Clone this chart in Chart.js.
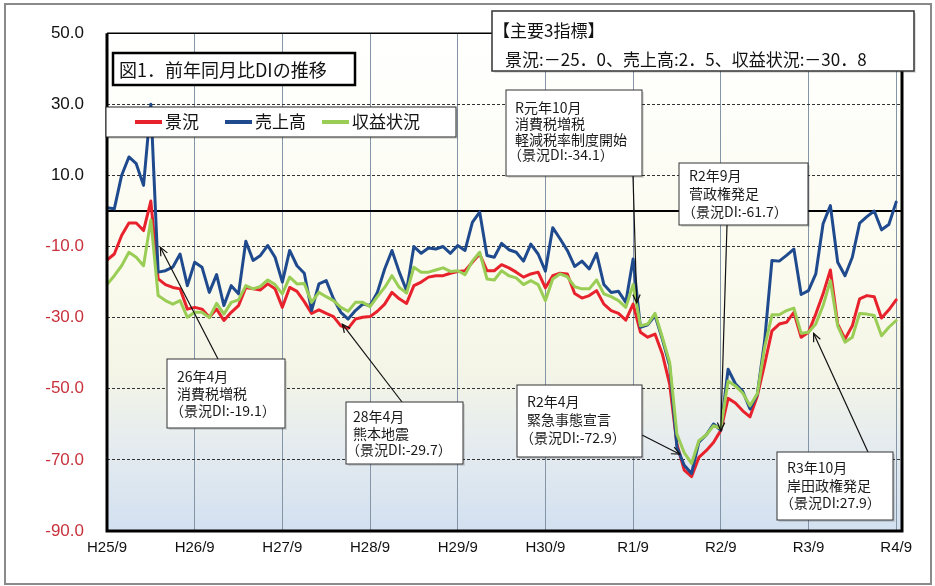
<!DOCTYPE html>
<html>
<head>
<meta charset="utf-8">
<script src="https://cdn.jsdelivr.net/npm/chart.js@4.4.1/dist/chart.umd.min.js"></script>
<style>
html, body { margin: 0; padding: 0; background: #fff; }
</style>
</head>
<body>
<canvas id="c" width="935" height="586"></canvas>
<script>
// monthly DI, H25/9 (index 0) .. R4/9 (index 108)
const tickLabels = ['H25/9', 'H26/9', 'H27/9', 'H28/9', 'H29/9', 'H30/9', 'R1/9', 'R2/9', 'R3/9', 'R4/9'];
const yTicks = [-90, -70, -50, -30, -10, 10, 30, 50];

const keikyo = [
	-13.8, -12.1, -6.9, -3.4, -3.4, -5.5, 2.8, -19.1, -20.7, -21.5,
	-21.9, -27.6, -27.1, -27.6, -29.9, -27.6, -30.8, -28.5, -26.6, -21.5,
	-21.9, -22.2, -20.5, -21.9, -27.1, -21.5, -22.6, -25.5, -28.8, -27.8,
	-28.8, -29.7, -32.3, -33.0, -30.4, -29.9, -29.7, -28.2, -26.2, -22.9,
	-24.7, -26.0, -21.0, -20.0, -18.6, -18.2, -18.2, -17.5, -17.0, -16.8,
	-14.4, -12.1, -16.8, -16.8, -15.1, -16.0, -17.2, -18.6, -17.7, -17.2,
	-21.6, -18.2, -17.5, -17.7, -23.2, -24.5, -23.8, -22.4, -26.2, -28.0,
	-28.8, -30.7, -26.2, -34.1, -35.5, -34.6, -40.2, -48.7, -65.6, -72.9,
	-74.7, -69.3, -67.4, -65.1, -61.7, -52.7, -54.0, -56.2, -57.9, -52.0,
	-43.1, -33.7, -31.8, -31.3, -28.5, -35.5, -34.1, -29.0, -23.3, -16.6,
	-31.8, -36.0, -32.3, -24.7, -23.8, -24.1, -30.1, -27.8, -25.0
];
const uriage = [
	0.9, 0.6, 10.0, 15.2, 13.3, 7.2, 30.0, -17.2, -16.8, -15.8,
	-12.1, -21.0, -14.4, -15.8, -22.9, -17.9, -26.6, -21.0, -23.3, -8.5,
	-13.9, -12.5, -9.7, -13.0, -20.0, -11.1, -15.4, -17.5, -28.0, -20.5,
	-19.6, -24.7, -28.5, -30.4, -28.0, -26.2, -26.6, -22.9, -16.3, -11.1,
	-17.2, -22.4, -10.0, -11.9, -10.4, -10.7, -10.0, -11.9, -9.7, -11.1,
	-3.2, -0.3, -12.5, -13.0, -9.1, -10.9, -11.6, -14.1, -9.3, -12.1,
	-16.9, -4.7, -7.8, -11.1, -15.6, -14.1, -16.3, -11.9, -20.7, -22.9,
	-22.6, -25.7, -13.5, -32.7, -32.0, -29.4, -36.0, -43.5, -66.5, -71.5,
	-73.8, -65.0, -63.0, -59.9, -61.6, -44.5, -48.6, -50.7, -55.7, -51.5,
	-36.5, -13.9, -14.1, -12.5, -10.7, -23.5, -22.4, -17.7, -3.6, 1.5,
	-14.4, -18.2, -13.0, -3.4, -1.6, 0.0, -5.3, -3.8, 2.5
];
const shueki = [
	-20.7, -18.2, -15.4, -11.6, -13.0, -15.4, -2.5, -23.8, -25.2, -26.2,
	-25.2, -29.9, -28.5, -28.5, -30.0, -26.0, -29.0, -25.7, -25.0, -21.0,
	-21.9, -21.2, -19.4, -20.7, -23.3, -18.6, -20.5, -20.4, -25.7, -22.9,
	-24.1, -25.2, -27.1, -28.2, -25.7, -25.7, -26.9, -24.1, -21.5, -18.2,
	-21.5, -23.1, -15.8, -17.2, -17.2, -16.6, -16.0, -17.0, -16.8, -17.9,
	-14.1, -11.6, -19.1, -19.4, -16.8, -18.2, -18.8, -20.7, -19.6, -20.7,
	-25.2, -19.1, -17.7, -18.5, -21.3, -21.9, -21.9, -19.4, -23.3, -24.1,
	-25.2, -27.1, -20.7, -32.3, -31.8, -28.8, -35.5, -42.6, -62.8, -68.0,
	-71.0, -64.6, -63.0, -60.4, -61.1, -47.8, -49.2, -51.2, -54.8, -51.4,
	-38.4, -29.2, -29.2, -28.0, -27.3, -34.4, -34.1, -31.8, -26.6, -19.6,
	-32.3, -36.9, -35.5, -28.8, -29.0, -29.4, -35.1, -32.7, -30.8
];

const RED = '#e8222c';
const NAVY = '#1f4b8e';
const GREEN = '#9acd55';
const JP = '"Noto Sans CJK JP", sans-serif';

// callouts: box, text, arrow start (px) and arrow tip (month index, DI value)
const notes = [
	{ box: [167, 359, 118, 69], tx: 177, ty: 377, lh: 17, lines: ['26年4月', '消費税増税', '（景況DI:-19.1）'], from: [218, 359], at: [7.3, -10.2] },
	{ box: [346, 402, 117, 62], tx: 353, ty: 417, lh: 16.5, lines: ['28年4月', '熊本地震', '（景況DI:-29.7）'], from: [402, 402], at: [32.2, -31.8] },
	{ box: [506, 90, 136, 86], tx: 515, ty: 108, lh: 15.7, lines: ['R元年10月', '消費税増税', '軽減税率制度開始', '（景況DI:-34.1）'], from: [633, 176], at: [72.5, -25.8] },
	{ box: [679, 163, 129, 62], tx: 689, ty: 176, lh: 18, lines: ['R2年9月', '菅政権発足', '（景況DI:-61.7）'], from: [727, 225], at: [84.0, -61.8] },
	{ box: [517, 385, 125, 72], tx: 527, ty: 402, lh: 17.6, lines: ['R2年4月', '緊急事態宣言', '（景況DI:-72.9）'], from: [642, 435], at: [78.4, -68.4] },
	{ box: [777, 452, 116, 68], tx: 787, ty: 468, lh: 17.5, lines: ['R3年10月', '岸田政権発足', '（景況DI:27.9）'], from: [868, 452], at: [96.7, -34.4] }
];

function toPoints(arr) {
	return arr.map(function (v, i) { return { x: i, y: v }; });
}

function arrow(ctx, x0, y0, x1, y1) {
	ctx.beginPath();
	ctx.moveTo(x0, y0);
	ctx.lineTo(x1, y1);
	ctx.stroke();
	const a = Math.atan2(y1 - y0, x1 - x0), L = 9, w = 0.42;
	ctx.beginPath();
	ctx.moveTo(x1 - L * Math.cos(a - w), y1 - L * Math.sin(a - w));
	ctx.lineTo(x1, y1);
	ctx.lineTo(x1 - L * Math.cos(a + w), y1 - L * Math.sin(a + w));
	ctx.stroke();
}

function textBox(ctx, x, y, w, h, lw, color) {
	ctx.fillStyle = 'rgba(0,0,0,0.12)';
	ctx.fillRect(x + 2, y + 2, w, h);
	ctx.fillStyle = '#fff';
	ctx.fillRect(x, y, w, h);
	ctx.lineWidth = lw;
	ctx.strokeStyle = color;
	ctx.strokeRect(x, y, w, h);
}

const decor = {
	id: 'decor',
	beforeDraw(chart) {
		const ctx = chart.ctx, a = chart.chartArea;
		ctx.save();
		ctx.fillStyle = '#fff';
		ctx.fillRect(0, 0, chart.width, chart.height);
		const g = ctx.createLinearGradient(0, a.top, 0, a.bottom);
		g.addColorStop(0, '#ffffff');
		g.addColorStop(0.45, '#fbfbef');
		g.addColorStop(0.68, '#f4f5e6');
		g.addColorStop(0.82, '#e6ecef');
		g.addColorStop(1, '#d2e0f0');
		ctx.fillStyle = g;
		ctx.fillRect(a.left, a.top, a.right - a.left, a.bottom - a.top);
		ctx.restore();
	},
	beforeDatasetsDraw(chart) {
		const ctx = chart.ctx, a = chart.chartArea;
		const y0 = chart.scales.y.getPixelForValue(0);
		ctx.save();
		ctx.strokeStyle = '#000';
		ctx.lineWidth = 2;
		ctx.beginPath();
		ctx.moveTo(a.left, y0);
		ctx.lineTo(a.right, y0);
		ctx.stroke();
		ctx.restore();
	},
	afterDatasetsDraw(chart) {
		const ctx = chart.ctx, a = chart.chartArea;
		ctx.save();
		ctx.strokeStyle = '#000';
		ctx.lineWidth = 1.5;
		ctx.beginPath();
		ctx.moveTo(a.left, a.top);
		ctx.lineTo(a.right, a.top);
		ctx.stroke();
		ctx.lineWidth = 3;
		ctx.beginPath();
		ctx.moveTo(a.left, a.top);
		ctx.lineTo(a.left, a.bottom);
		ctx.lineTo(a.right, a.bottom);
		ctx.lineTo(a.right, a.top);
		ctx.stroke();
		ctx.restore();
	},
	afterDraw(chart) {
		const ctx = chart.ctx, xs = chart.scales.x, ys = chart.scales.y;
		ctx.save();

		// legend
		textBox(ctx, 106, 107, 350, 30, 1, '#222');
		const items = [[RED, '景況', 135], [NAVY, '売上高', 225], [GREEN, '収益状況', 322]];
		ctx.font = '17px ' + JP;
		ctx.textBaseline = 'middle';
		items.forEach(function (it) {
			ctx.strokeStyle = it[0];
			ctx.lineWidth = 4;
			ctx.beginPath();
			ctx.moveTo(it[2], 122);
			ctx.lineTo(it[2] + 27, 122);
			ctx.stroke();
			ctx.fillStyle = '#111';
			ctx.fillText(it[1], it[2] + 30, 122);
		});

		// title
		ctx.fillStyle = '#fff';
		ctx.fillRect(113, 53, 242, 32);
		ctx.lineWidth = 2.5;
		ctx.strokeStyle = '#000';
		ctx.strokeRect(113, 53, 242, 32);
		ctx.fillStyle = '#111';
		ctx.font = '18px ' + JP;
		ctx.fillText('図1．前年同月比DIの推移', 119, 70);

		// key figures
		textBox(ctx, 492, 11, 422, 60, 1.5, '#333');
		ctx.fillStyle = '#111';
		ctx.font = '17px ' + JP;
		ctx.fillText('【主要3指標】', 493, 31);
		ctx.fillText('景況:－25．0、売上高:2．5、収益状況:－30．8', 505, 60);

		// callouts
		ctx.font = '14px ' + JP;
		notes.forEach(function (n) {
			ctx.strokeStyle = '#111';
			ctx.lineWidth = 1.2;
			arrow(ctx, n.from[0], n.from[1], xs.getPixelForValue(n.at[0]), ys.getPixelForValue(n.at[1]));
			textBox(ctx, n.box[0], n.box[1], n.box[2], n.box[3], 1, '#333');
			ctx.fillStyle = '#1a1a1a';
			n.lines.forEach(function (s, k) {
				// full-width bracket carries its own left gap
				const dx = s.charAt(0) === '（' ? -7 : 0;
				ctx.fillText(s, n.tx + dx, n.ty + k * n.lh);
			});
		});

		// outer frame
		ctx.strokeStyle = '#8a8a8a';
		ctx.lineWidth = 2;
		ctx.strokeRect(5, 4, 926, 580);
		ctx.restore();
	}
};

new Chart(document.getElementById('c'), {
	type: 'line',
	data: {
		datasets: [
			{ label: '景況', data: toPoints(keikyo), borderColor: RED, borderWidth: 3, order: 3 },
			{ label: '売上高', data: toPoints(uriage), borderColor: NAVY, borderWidth: 3, order: 2 },
			{ label: '収益状況', data: toPoints(shueki), borderColor: GREEN, borderWidth: 3, order: 1 }
		]
	},
	options: {
		responsive: false,
		animation: false,
		events: [],
		layout: {
			padding: { top: 33, right: 33, left: 0, bottom: 0 }
		},
		elements: {
			point: { radius: 0 },
			line: { tension: 0, borderJoinStyle: 'round', borderCapStyle: 'round' }
		},
		scales: {
			x: {
				type: 'linear',
				min: 0,
				max: 108.8,
				afterBuildTicks: function (s) {
					s.ticks = tickLabels.map(function (_, k) { return { value: k * 12 }; });
				},
				afterFit: function (s) { s.height = 55; },
				ticks: {
					autoSkip: false,
					maxRotation: 0,
					padding: 8,
					color: '#111',
					font: { family: '"Liberation Sans", Arial, sans-serif', size: 15 },
					callback: function (v) { return tickLabels[Math.round(v / 12)]; }
				},
				grid: { color: '#8595a8', lineWidth: 1, drawTicks: false },
				border: { display: false }
			},
			y: {
				min: -90,
				max: 50,
				afterBuildTicks: function (s) {
					s.ticks = yTicks.map(function (v) { return { value: v }; });
				},
				afterFit: function (s) { s.width = 107; },
				ticks: {
					padding: 23,
					font: { family: '"Liberation Sans", Arial, sans-serif', size: 17 },
					color: function (c) { return c.tick && c.tick.value < 0 ? '#c8323c' : '#111'; },
					callback: function (v) { return v.toFixed(1); }
				},
				grid: { color: '#333', lineWidth: 1, drawTicks: false },
				border: { display: false, dash: [3, 2] }
			}
		},
		plugins: {
			legend: { display: false },
			tooltip: { enabled: false }
		}
	},
	plugins: [decor]
});
</script>
</body>
</html>
